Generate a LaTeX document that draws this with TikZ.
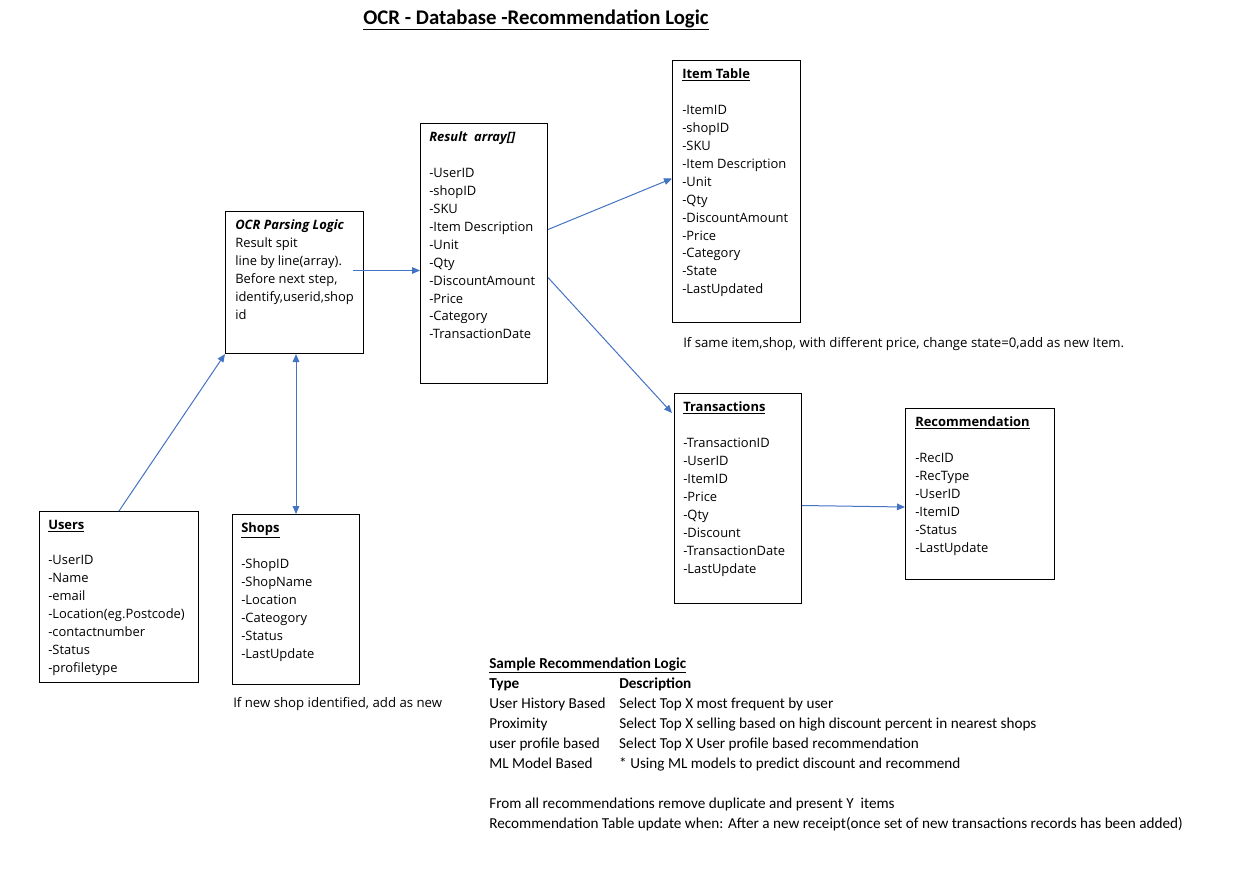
\documentclass[tikz,border=0pt]{standalone}
\usepackage{fontspec}
\usepackage{xcolor}
\usetikzlibrary{arrows.meta}
\newfontfamily\boxfont{Open Sans}
\newfontfamily\notefont{Carlito}
\definecolor{linkblue}{RGB}{68,114,196}
\newdimen\pxu \pxu=0.75pt
\tikzset{
    tbl/.style 2 args={draw, line width=0.75pt, anchor=north west, inner sep=0pt,
        minimum width=#1\pxu, minimum height=#2\pxu},
    fld/.style={anchor=north west, align=left, inner sep=0pt,
        font=\boxfont\fontsize{9.7}{13.45}\selectfont},
    note/.style={anchor=base west, inner sep=0pt, font=\boxfont\fontsize{9.9}{13.4}\selectfont},
    link/.style={draw=linkblue, line width=0.75pt, >={Triangle[length=6pt,width=5pt]}, ->}
}
\begin{document}
\begin{tikzpicture}[x=0.75pt,y=-0.75pt]
    \useasboundingbox (0,0) rectangle (1234,879);
    \node[font=\notefont\bfseries\fontsize{15.6}{18}\selectfont, inner sep=0pt] (title) at (536,20)
        {\underline{OCR - Database -Recommendation Logic}};
    % boxes
    \node[tbl={138}{142}] (ocr) at (225,211) {};
    \node[tbl={127}{260}] (res) at (420,123) {};
    \node[tbl={128}{262}] (item) at (672,60) {};
    \node[tbl={127}{210}] (trans) at (674,393) {};
    \node[tbl={149}{171}] (rec) at (905,408) {};
    \node[tbl={159}{171}] (users) at (39,511) {};
    \node[tbl={127}{170}] (shops) at (232,514) {};
    % box texts
    \node[fld] (ocrtxt) at ([shift={(10,8.5)}]ocr.north west)
        {\textbf{\textit{OCR Parsing Logic}}\\ Result spit\\ line by line(array).\\
         Before next step,\\ identify,userid,shop\\ id};
    \node[fld] (restxt) at ([shift={(9,8.5)}]res.north west)
        {\textbf{\textit{Result\ \ array[]}}\\[\baselineskip] -UserID\\ -shopID\\ -SKU\\
         -Item Description\\ -Unit\\ -Qty\\ -DiscountAmount\\ -Price\\ -Category\\ -TransactionDate};
    \node[fld] (itemtxt) at ([shift={(10,8.5)}]item.north west)
        {\textbf{\underline{Item Table}}\\[\baselineskip] -ItemID\\ -shopID\\ -SKU\\
         -Item Description\\ -Unit\\ -Qty\\ -DiscountAmount\\ -Price\\ -Category\\ -State\\ -LastUpdated};
    \node[fld] (transtxt) at ([shift={(9,8.5)}]trans.north west)
        {\textbf{\underline{Transactions}}\\[\baselineskip] -TransactionID\\ -UserID\\ -ItemID\\
         -Price\\ -Qty\\ -Discount\\ -TransactionDate\\ -LastUpdate};
    \node[fld] (rectxt) at ([shift={(10,8.5)}]rec.north west)
        {\textbf{\underline{Recommendation}}\\[\baselineskip] -RecID\\ -RecType\\ -UserID\\
         -ItemID\\ -Status\\ -LastUpdate};
    \node[fld] (userstxt) at ([shift={(9,8.5)}]users.north west)
        {\textbf{\underline{Users}}\\[\baselineskip] -UserID\\ -Name\\ -email\\
         -Location(eg.Postcode)\\ -contactnumber\\ -Status\\ -profiletype};
    \node[fld] (shopstxt) at ([shift={(9,8.5)}]shops.north west)
        {\textbf{\underline{Shops}}\\[\baselineskip] -ShopID\\ -ShopName\\ -Location\\
         -Cateogory\\ -Status\\ -LastUpdate};
    % notes
    \node[note] (itemnote) at (683,347) {If same item,shop, with different price, change state=0,add as new Item.};
    \node[note] (shopnote) at (233,707) {If new shop identified, add as new};
    \node[anchor=north west, inner sep=0pt, font=\notefont\fontsize{11.4}{15}\selectfont] (logic) at (489,654)
        {\begin{tabular}{@{}p{97.5pt}@{}l@{}}
         \multicolumn{2}{@{}l@{}}{\textbf{\underline{Sample Recommendation Logic}}}\\
         \textbf{Type} & \textbf{Description}\\
         User History Based & Select Top X most frequent by user\\
         Proximity & Select Top X selling based on high discount percent in nearest shops\\
         user profile based & Select Top X User profile based recommendation\\
         ML Model Based & * Using ML models to predict discount and recommend\\
         \multicolumn{2}{@{}l@{}}{}\\
         \multicolumn{2}{@{}l@{}}{From all recommendations remove duplicate and present Y\ \ items}\\
         \multicolumn{2}{@{}l@{}}{Recommendation Table update when: After a new receipt(once set of new transactions records has been added)}
         \end{tabular}};
    % connectors
    \draw[link] ([shift={(-11,-12)}]ocr.east) -- ([shift={(0,17)}]res.west);
    \draw[link] ([shift={(0,-24)}]res.east) -- ([shift={(0,-13)}]item.west);
    \draw[link] ([shift={(0,24)}]res.east) -- ([shift={(-2,20)}]trans.north west);
    \draw[link] ([shift={(0,7)}]trans.east) -- ([shift={(0,13)}]rec.west);
    \draw[link] (users.north) -- (ocr.south west);
    \draw[link, <->] (shops.north) -- (shops.north |- ocr.south);
\end{tikzpicture}
\end{document}
